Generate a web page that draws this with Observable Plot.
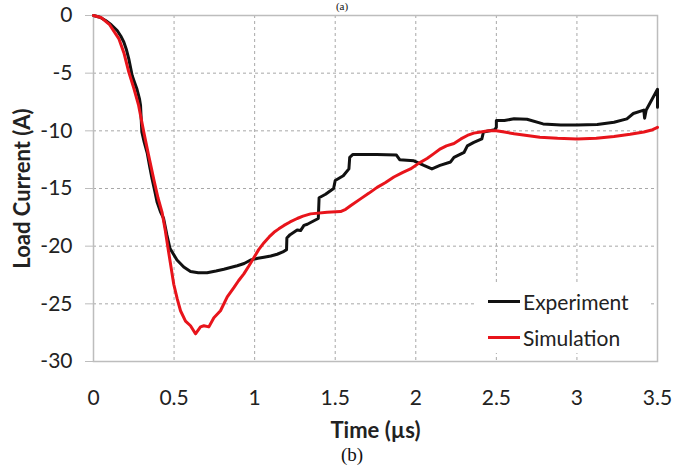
<!DOCTYPE html>
<html>
<head>
<meta charset="utf-8">
<script src="https://cdn.jsdelivr.net/npm/d3@7"></script>
<script src="https://cdn.jsdelivr.net/npm/@observablehq/plot@0.6"></script>
<style>
  html, body { margin: 0; padding: 0; background: #fff; }
  body { width: 674px; height: 467px; overflow: hidden; position: relative; font-family: Lato, "Open Sans", sans-serif; color: #222; }
  #chart { position: absolute; left: 0; top: 0; }
  .legend { position: absolute; left: 476px; top: 285px; width: 174px; height: 68px; background: #fff; }
  .legend .row { position: absolute; left: 12px; height: 24px; display: flex; align-items: center; font-size: 21px; }
  .legend .sw { width: 32px; height: 3px; margin-right: 3px; }
  .cap { position: absolute; font-family: "Liberation Serif", "DejaVu Serif", serif; font-size: 19px; color: #111; transform: translate(-50%, -50%); white-space: nowrap; line-height: 1; }
</style>
</head>
<body>
<div id="chart"></div>
<div class="cap" style="left:342px; top:6px; font-size:11px;">(a)</div>
<div class="cap" style="left:352px; top:454px;">(b)</div>
<div class="legend" id="legend"></div>
<script>
// ---- data ----
const seriesNames = ["Experiment", "Simulation"];
const seriesColors = ["#111111", "#e8141b"];
const xTicks = [0, 0.5, 1, 1.5, 2, 2.5, 3, 3.5];
const yTicks = [-30, -25, -20, -15, -10, -5, 0];

// Time (µs)
const expT = [0, 0.04, 0.075, 0.11, 0.147, 0.17, 0.188, 0.205, 0.219, 0.24, 0.255, 0.27, 0.285, 0.292, 0.296, 0.30, 0.315, 0.333, 0.35, 0.364, 0.38, 0.395, 0.415, 0.435, 0.455, 0.475, 0.518, 0.56, 0.602, 0.65, 0.705, 0.76, 0.809, 0.85, 0.892, 0.935, 0.975, 1.02, 1.058, 1.1, 1.14, 1.175, 1.198, 1.2, 1.22, 1.264, 1.285, 1.306, 1.327, 1.368, 1.395, 1.4, 1.44, 1.49, 1.5, 1.55, 1.585, 1.59, 1.61, 1.757, 1.88, 1.9, 1.988, 2.05, 2.1, 2.15, 2.216, 2.237, 2.3, 2.32, 2.36, 2.41, 2.42, 2.49, 2.5, 2.5, 2.55, 2.61, 2.69, 2.79, 2.9, 3.0, 3.126, 3.23, 3.31, 3.35, 3.415, 3.42, 3.43, 3.5, 3.5];
// Load current (A)
const expI = [0, -0.15, -0.43, -0.8, -1.3, -1.8, -2.3, -3.0, -3.76, -5.2, -5.8, -6.4, -7.2, -7.8, -9.0, -10.1, -11.0, -11.9, -13.2, -14.2, -15.2, -16.2, -17.0, -17.6, -19.0, -20.2, -21.2, -21.8, -22.2, -22.3, -22.3, -22.15, -22.0, -21.85, -21.7, -21.5, -21.2, -21.05, -20.96, -20.85, -20.7, -20.5, -20.3, -19.3, -19.0, -18.6, -18.65, -18.2, -18.1, -17.8, -17.6, -15.8, -15.5, -15.0, -14.3, -13.9, -13.3, -12.3, -12.05, -12.05, -12.1, -12.5, -12.6, -13.0, -13.3, -13.0, -12.7, -12.3, -11.86, -11.3, -11.0, -10.7, -10.1, -9.9, -9.7, -9.1, -9.1, -8.96, -9.0, -9.4, -9.5, -9.5, -9.45, -9.25, -8.96, -8.5, -8.2, -8.9, -8.2, -6.4, -7.95];

const simT = [0, 0.05, 0.1, 0.157, 0.19, 0.219, 0.25, 0.28, 0.312, 0.34, 0.374, 0.4, 0.426, 0.445, 0.465, 0.498, 0.52, 0.54, 0.571, 0.602, 0.633, 0.664, 0.685, 0.716, 0.747, 0.788, 0.83, 0.871, 0.9, 0.933, 0.965, 0.995, 1.025, 1.058, 1.09, 1.12, 1.15, 1.182, 1.22, 1.264, 1.3, 1.347, 1.45, 1.533, 1.565, 1.595, 1.657, 1.71, 1.76, 1.81, 1.864, 1.92, 1.967, 2.02, 2.07, 2.11, 2.153, 2.19, 2.237, 2.28, 2.32, 2.36, 2.403, 2.45, 2.5, 2.55, 2.61, 2.69, 2.77, 2.88, 3.0, 3.12, 3.23, 3.33, 3.415, 3.47, 3.5];
const simI = [0, -0.2, -0.8, -2.0, -3.3, -4.9, -6.3, -7.8, -10.1, -12.0, -14.2, -15.8, -17.1, -18.6, -20.4, -23.3, -24.6, -25.6, -26.5, -26.9, -27.6, -27.0, -26.9, -27.0, -26.2, -25.6, -24.4, -23.6, -23.0, -22.4, -21.7, -21.0, -20.3, -19.7, -19.2, -18.8, -18.5, -18.2, -17.9, -17.6, -17.4, -17.2, -17.06, -17.0, -16.8, -16.5, -15.9, -15.4, -14.9, -14.5, -14.0, -13.6, -13.3, -12.8, -12.4, -12.0, -11.56, -11.3, -11.1, -10.7, -10.4, -10.2, -10.1, -10.0, -10.0, -10.1, -10.26, -10.4, -10.55, -10.65, -10.7, -10.65, -10.5, -10.3, -10.1, -9.9, -9.7];

const experiment = expT.map((t, k) => ({t, i: expI[k]}));
const simulation = simT.map((t, k) => ({t, i: simI[k]}));
const fmt = d => String(d);

const plot = Plot.plot({
  width: 674,
  height: 440,
  marginLeft: 93,
  marginRight: 17,
  marginTop: 15,
  marginBottom: 79,
  x: {domain: [0, 3.5]},
  y: {domain: [-30, 0]},
  style: {fontFamily: "Lato, 'Open Sans', sans-serif", fontSize: "21px", color: "#222", background: "transparent", overflow: "visible"},
  marks: [
    Plot.gridX(xTicks.slice(1, -1), {stroke: "#a8a8a8", strokeOpacity: 1, strokeWidth: 1, strokeDasharray: "3,3"}),
    Plot.gridY(yTicks.slice(1, -1), {stroke: "#a8a8a8", strokeOpacity: 1, strokeWidth: 1, strokeDasharray: "3,3"}),
    Plot.frame({stroke: "#bdbdbd", strokeWidth: 1.5}),
    Plot.axisY(yTicks, {tickSize: 8, tickPadding: 13, tickFormat: fmt, stroke: "#bdbdbd", label: null}),
    Plot.axisX(xTicks, {tickSize: 0, tickPadding: 29, tickFormat: fmt, label: null}),
    Plot.line(experiment, {x: "t", y: "i", stroke: seriesColors[0], strokeWidth: 3, strokeLinejoin: "round"}),
    Plot.line(simulation, {x: "t", y: "i", stroke: seriesColors[1], strokeWidth: 3, strokeLinejoin: "round"}),
    Plot.text(["Time (µs)"], {frameAnchor: "bottom", lineAnchor: "middle", textAnchor: "middle", dy: 69, fontWeight: "bold", fontSize: 22, fill: "#222"}),
    Plot.text(["Load Current (A)"], {frameAnchor: "left", textAnchor: "middle", lineAnchor: "middle", dx: -71, rotate: -90, fontWeight: "bold", fontSize: 22, fill: "#222"})
  ]
});
document.getElementById("chart").appendChild(plot);

const legend = document.getElementById("legend");
seriesNames.forEach((name, k) => {
  const row = document.createElement("div");
  row.className = "row";
  row.style.top = (4 + k * 36) + "px";
  const sw = document.createElement("span");
  sw.className = "sw";
  sw.style.background = seriesColors[k];
  const tx = document.createElement("span");
  tx.textContent = name;
  row.appendChild(sw);
  row.appendChild(tx);
  legend.appendChild(row);
});
</script>
</body>
</html>
